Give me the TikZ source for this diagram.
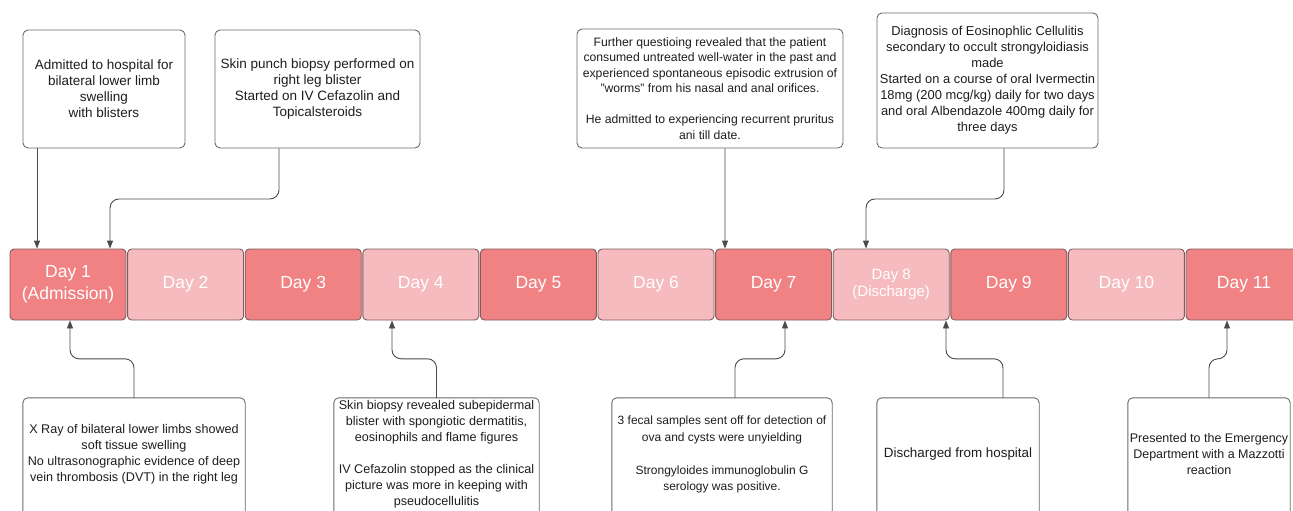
\documentclass[tikz,border=0pt]{standalone}
\usepackage{fontspec}
\setmainfont{Liberation Sans}
\usetikzlibrary{arrows.meta}
\definecolor{dayDark}{RGB}{240,130,131}
\definecolor{dayLight}{RGB}{245,187,190}
\definecolor{dayEdge}{RGB}{125,92,92}
\definecolor{boxEdge}{RGB}{105,105,105}
\definecolor{linkGray}{RGB}{75,75,75}
\definecolor{noteText}{RGB}{30,30,30}
\tikzset{
  daybox/.style={draw=dayEdge, line width=0.9pt, rounded corners=4pt, minimum width=116pt, minimum height=71pt, inner sep=0pt, text=white, align=center, font=\fontsize{17.5}{22}\selectfont},
  notebox/.style={draw=boxEdge, line width=0.9pt, rounded corners=5pt, inner sep=0pt, align=center, text=noteText},
  notetext/.style={inner sep=0pt, align=center, text=noteText, minimum height=113pt},
  noteframe/.style={draw=boxEdge, line width=0.9pt, rounded corners=5pt},
  link/.style={->, draw=linkGray, line width=0.9pt, rounded corners=9pt},
}
\begin{document}
\begin{tikzpicture}[x=1pt, y=-1pt, >={Triangle[length=8pt,width=6pt]}, line join=round]
\useasboundingbox[fill=white] (0,0) rectangle (1293,511);

\foreach \i/\c/\t in {1/dayDark/{Day 1\\(Admission)}, 2/dayLight/{Day 2}, 3/dayDark/{Day 3}, 4/dayLight/{Day 4}, 5/dayDark/{Day 5}, 6/dayLight/{Day 6}, 7/dayDark/{Day 7}, 9/dayDark/{Day 9}, 10/dayLight/{Day 10}, 11/dayDark/{Day 11}}
  \node[daybox, fill=\c] (d\i) at ({68+(\i-1)*117.6}, 284.5) {\t};
\node[daybox, fill=dayLight, font=\fontsize{15}{17}\selectfont] (d8) at ({68+7*117.6}, 284.5) {Day 8\\(Discharge)};

\node[notebox, minimum width=162pt, minimum height=118pt, font=\fontsize{13.5}{16}\selectfont] (tA) at (104,89) {Admitted to hospital for\\bilateral lower limb\\swelling\\with blisters};
\node[notebox, minimum width=205pt, minimum height=118pt, font=\fontsize{13.5}{16}\selectfont] (tB) at (317.5,89) {Skin punch biopsy performed on\\right leg blister\\Started on IV Cefazolin and\\Topicalsteroids};
\node[notebox, minimum width=266pt, minimum height=119pt, font=\fontsize{12.2}{15.5}\selectfont] (tC) at (710,88.5) {Further questioing revealed that the patient\\consumed untreated well-water in the past and\\experienced spontaneous episodic extrusion of\\"worms" from his nasal and anal orifices.\\[15.5pt]He admitted to experiencing recurrent pruritus\\ani till date.};
\node[notebox, minimum width=221pt, minimum height=135pt, font=\fontsize{12.9}{16}\selectfont] (tD) at (987.5,80.5) {Diagnosis of Eosinophlic Cellulitis\\secondary to occult strongyloidiasis\\made\\Started on a course of oral Ivermectin\\18mg (200 mcg/kg) daily for two days\\and oral Albendazole 400mg daily for\\three days};

\node[notetext, minimum width=222pt, font=\fontsize{12.6}{16}\selectfont] (bE) at (134,454.5) {X Ray of bilateral lower limbs showed\\soft tissue swelling\\No ultrasonographic evidence of deep\\vein thrombosis (DVT) in the right leg};
\node[notetext, minimum width=205pt, font=\fontsize{12.6}{16}\selectfont] (bF) at (436.5,454.5) {Skin biopsy revealed subepidermal\\blister with spongiotic dermatitis,\\eosinophils and flame figures\\[16pt]IV Cefazolin stopped as the clinical\\picture was more in keeping with\\pseudocellulitis};
\node[notetext, minimum width=220pt, font=\fontsize{12}{16.5}\selectfont] (bG) at (722,454.5) {3 fecal samples sent off for detection of\\ova and cysts were unyielding\\[16.5pt]Strongyloides immunoglobulin G\\serology was positive.};
\node[notetext, minimum width=162pt, font=\fontsize{13.4}{16}\selectfont] (bH) at (958,454.5) {Discharged from hospital};
\node[notetext, minimum width=162pt, font=\fontsize{12.5}{16}\selectfont] (bI) at (1209,454.5) {Presented to the Emergency\\Department with a Mazzotti\\reaction};
\foreach \b in {bE,bF,bG,bH,bI}
  \draw[noteframe] ([yshift=-30pt]\b.south west) |- (\b.north east) -- ([yshift=-30pt]\b.south east);

\draw[link] ([xshift=-67pt]tA.south) -- ([xshift=-31pt]d1.north);
\draw[link] ([xshift=-38.5pt]tB.south) -- ++(0,50.5) -| ([xshift=42pt]d1.north);
\draw[link] ([xshift=15pt]tC.south) -- ([xshift=-48.6pt]d7.north);
\draw[link] ([xshift=16.5pt]tD.south) -- ++(0,50.5) -| ([xshift=-25.2pt]d8.north);

\draw[link] (bE.north) -- ++(0,-39) -| ([xshift=2pt]d1.south);
\draw[link] (bF.north) -- ++(0,-39) -| ([xshift=-28.8pt]d4.south);
\draw[link] ([xshift=13pt]bG.north) -- ++(0,-39) -| ([xshift=11.4pt]d7.south);
\draw[link] ([xshift=45pt]bH.north) -- ++(0,-39) -| ([xshift=54.8pt]d8.south);
\draw[link] (bI.north) -- ++(0,-39) -| ([xshift=-17pt]d11.south);
\end{tikzpicture}
\end{document}
